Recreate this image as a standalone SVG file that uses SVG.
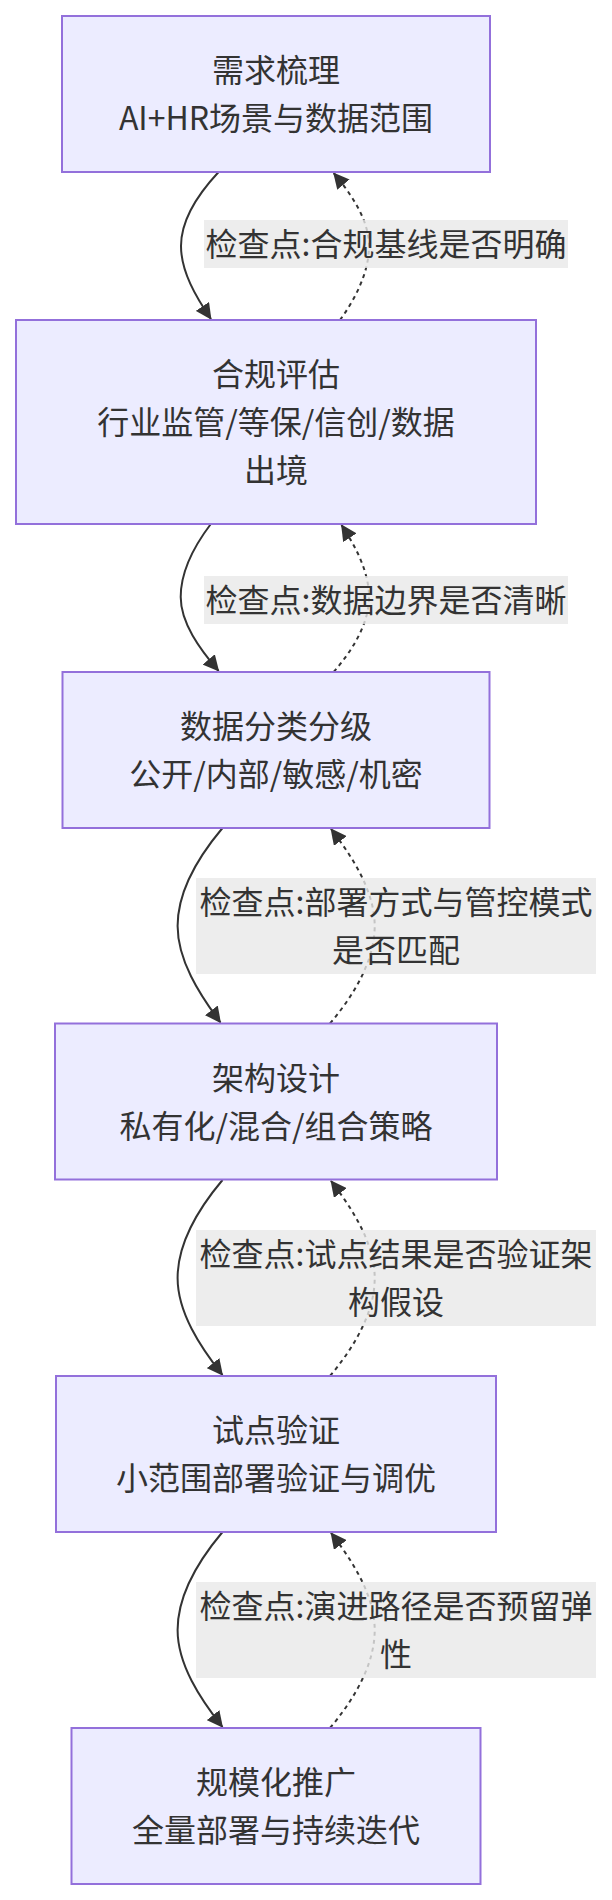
<svg xmlns="http://www.w3.org/2000/svg" width="612" height="1900" viewBox="0 0 612 1900">
<defs>
<style>
.node rect{fill:#ECECFF;stroke:#9370DB;stroke-width:2}
text{font-family:"Noto Sans CJK SC","Noto Sans",sans-serif;font-size:32px;fill:#333;text-anchor:middle}
.edge{fill:none;stroke:#333;stroke-width:2}
.dotted{stroke-dasharray:4 4}
.lbl{fill:#e8e8e8;fill-opacity:0.8}
</style>
<marker id="arr" viewBox="0 0 10 10" refX="9.5" refY="5" markerWidth="16" markerHeight="16" markerUnits="userSpaceOnUse" orient="auto">
<path d="M0,0 L10,5 L0,10 z" fill="#333"/>
</marker>
</defs>
<rect width="612" height="1900" fill="#fff"/>
<g id="connectors">
<path class="edge" marker-end="url(#arr)" d="M218.6,172 C197.9,194.2 181,220.1 181,246 C181,271.6 196,297.1 211,319"/>
<path class="edge dotted" marker-end="url(#arr)" d="M340,320 C356,297.8 369,271.9 369,246 C369,220.1 351.4,194.2 333.7,173"/>
<path class="edge" marker-end="url(#arr)" d="M210.8,524 C194.2,545.9 180.7,571.4 180.7,597 C180.7,622.9 199.7,648.8 218.6,671"/>
<path class="edge dotted" marker-end="url(#arr)" d="M333.7,672 C353.1,649.5 369,623.3 369,597 C369,571.5 355.3,545.9 341.5,525"/>
<path class="edge" marker-end="url(#arr)" d="M222.5,828 C197.8,857.4 177.6,891.7 177.6,926 C177.6,960 199,993.9 220.5,1022.5"/>
<path class="edge dotted" marker-end="url(#arr)" d="M330,1023.5 C354.6,994.3 374.7,960.1 374.7,926 C374.7,891.7 352.9,857.4 331,829"/>
<path class="edge" marker-end="url(#arr)" d="M222.5,1180 C197.8,1209.4 177.6,1243.7 177.6,1278 C177.6,1312.3 200,1346.6 222.5,1375"/>
<path class="edge dotted" marker-end="url(#arr)" d="M330,1376 C354.6,1346.6 374.7,1312.3 374.7,1278 C374.7,1243.7 352.9,1209.4 331,1181"/>
<path class="edge" marker-end="url(#arr)" d="M222.5,1532 C197.8,1561.4 177.6,1595.7 177.6,1630 C177.6,1664.3 200,1698.6 222.5,1727"/>
<path class="edge dotted" marker-end="url(#arr)" d="M330,1728 C354.6,1698.6 374.7,1664.3 374.7,1630 C374.7,1595.7 352.9,1561.4 331,1533"/>
<g id="label1"><rect class="lbl" x="204" y="220" width="364" height="48"/><text x="386" y="256">检查点:合规基线是否明确</text></g>
<g id="label2"><rect class="lbl" x="204" y="576" width="364" height="48"/><text x="386" y="612">检查点:数据边界是否清晰</text></g>
<g id="label3"><rect class="lbl" x="196" y="878" width="400" height="96"/><text x="396" y="914">检查点:部署方式与管控模式</text><text x="396" y="962">是否匹配</text></g>
<g id="label4"><rect class="lbl" x="196" y="1230" width="400" height="96"/><text x="396" y="1266">检查点:试点结果是否验证架</text><text x="396" y="1314">构假设</text></g>
<g id="label5"><rect class="lbl" x="196" y="1582" width="400" height="96"/><text x="396" y="1618">检查点:演进路径是否预留弹</text><text x="396" y="1666">性</text></g>
</g>
<g id="node1" class="node"><rect x="62" y="16" width="428" height="156"/><text x="276" y="82">需求梳理</text><text x="276" y="130">AI+HR场景与数据范围</text></g>
<g id="node2" class="node"><rect x="16" y="320" width="520" height="204"/><text x="276" y="386">合规评估</text><text x="276" y="434">行业监管/等保/信创/数据</text><text x="276" y="482">出境</text></g>
<g id="node3" class="node"><rect x="62.5" y="672" width="427" height="156"/><text x="276" y="738">数据分类分级</text><text x="276" y="786">公开/内部/敏感/机密</text></g>
<g id="node4" class="node"><rect x="55" y="1023.5" width="442" height="156"/><text x="276" y="1089.5">架构设计</text><text x="276" y="1137.5">私有化/混合/组合策略</text></g>
<g id="node5" class="node"><rect x="56" y="1376" width="440" height="156"/><text x="276" y="1442">试点验证</text><text x="276" y="1490">小范围部署验证与调优</text></g>
<g id="node6" class="node"><rect x="71.5" y="1728" width="409" height="156"/><text x="276" y="1794">规模化推广</text><text x="276" y="1842">全量部署与持续迭代</text></g>
</svg>
